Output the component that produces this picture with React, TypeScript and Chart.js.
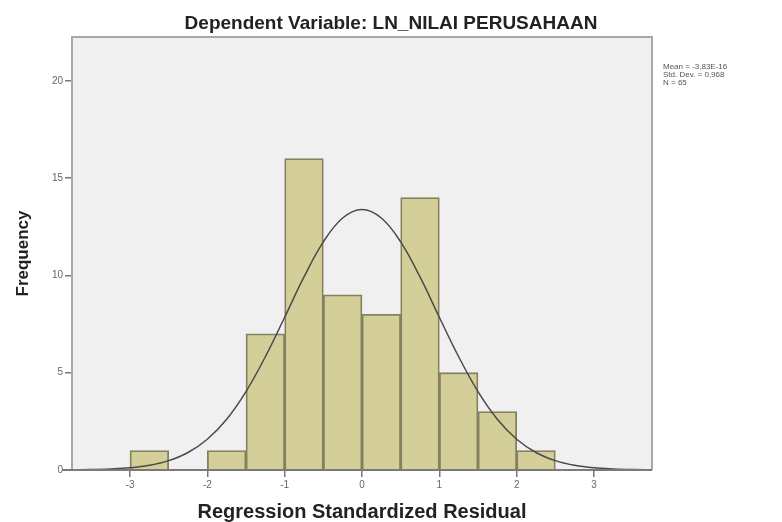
import React, { useEffect, useRef } from "react";
import { Chart, registerables } from "chart.js";

Chart.register(...registerables);

// Histogram bins (width 0.5), centre of each bin
const binCenters = [-2.75, -2.25, -1.75, -1.25, -0.75, -0.25, 0.25, 0.75, 1.25, 1.75, 2.25];
const frequencies = [1, 0, 1, 7, 16, 9, 8, 14, 5, 3, 1];

// Normal curve
const curveX = [-3.75, -3.5, -3.25, -3, -2.75, -2.5, -2.25, -2, -1.75, -1.5, -1.25, -1, -0.75, -0.5, -0.25, 0, 0.25, 0.5, 0.75, 1, 1.25, 1.5, 1.75, 2, 2.25, 2.5, 2.75, 3, 3.25, 3.5, 3.75];
const curveY = [0.01, 0.02, 0.05, 0.11, 0.24, 0.48, 0.9, 1.58, 2.61, 4.03, 5.82, 7.85, 9.92, 11.72, 12.95, 13.39, 12.95, 11.72, 9.92, 7.85, 5.82, 4.03, 2.61, 1.58, 0.9, 0.48, 0.24, 0.11, 0.05, 0.02, 0.01];

const xTicks = [-3, -2, -1, 0, 1, 2, 3];
const yTicks = [0, 5, 10, 15, 20];

const chartTitle = "Dependent Variable: LN_NILAI PERUSAHAAN";
const xTitle = "Regression Standardized Residual";
const yTitle = "Frequency";
const statsLines = ["Mean = -3,83E-16", "Std. Dev. = 0,968", "N = 65"];

const FONT = "'Liberation Sans', Arial, sans-serif";

const decorPlugin = {
  id: "decor",
  beforeDraw(chart: any) {
    const { ctx, chartArea: a } = chart;
    ctx.save();
    ctx.fillStyle = "#f0f0f0";
    ctx.fillRect(a.left, a.top, a.right - a.left, a.bottom - a.top);
    ctx.restore();
  },
  afterDraw(chart: any) {
    const { ctx, chartArea: a } = chart;
    ctx.save();
    // frame
    ctx.lineWidth = 2;
    ctx.strokeStyle = "#a8a8a8";
    ctx.beginPath();
    ctx.moveTo(a.left, a.bottom);
    ctx.lineTo(a.left, a.top);
    ctx.lineTo(a.right, a.top);
    ctx.lineTo(a.right, a.bottom);
    ctx.stroke();
    ctx.strokeStyle = "#7a7a7a";
    ctx.beginPath();
    ctx.moveTo(a.left - 10, a.bottom);
    ctx.lineTo(a.right, a.bottom);
    ctx.stroke();

    ctx.fillStyle = "#222";
    ctx.textAlign = "center";
    ctx.textBaseline = "alphabetic";
    ctx.font = `bold 19px ${FONT}`;
    ctx.fillText(chartTitle, 391, 29);

    ctx.font = `bold 20px ${FONT}`;
    ctx.fillText(xTitle, (a.left + a.right) / 2, 518);

    ctx.save();
    ctx.translate(28, (a.top + a.bottom) / 2);
    ctx.rotate(-Math.PI / 2);
    ctx.font = `bold 17px ${FONT}`;
    ctx.fillText(yTitle, 0, 0);
    ctx.restore();

    ctx.fillStyle = "#555";
    ctx.textAlign = "left";
    ctx.font = `8px ${FONT}`;
    statsLines.forEach((s, i) => ctx.fillText(s, 663, 69 + i * 8));
    ctx.restore();
  },
};

export default function App() {
  const ref = useRef<HTMLCanvasElement | null>(null);
  useEffect(() => {
    if (!ref.current) return;
    const chart = new Chart(ref.current, {
      type: "bar",
      data: {
        datasets: [
          {
            type: "line",
            data: curveX.map((x, i) => ({ x, y: curveY[i] })),
            borderColor: "#4a4a4a",
            borderWidth: 1.5,
            pointRadius: 0,
            tension: 0.4,
            fill: false,
            order: 0,
          } as any,
          {
            type: "bar",
            data: binCenters.map((x, i) => ({ x, y: frequencies[i] })),
            backgroundColor: "#d4cf98",
            borderColor: "#858160",
            borderWidth: (c: any) => (c.raw && c.raw.y === 0 ? 0 : 1.8),
            borderSkipped: "bottom",
            barPercentage: 1,
            categoryPercentage: 1,
            grouped: false,
            order: 1,
          } as any,
        ],
      },
      options: {
        responsive: false,
        animation: false,
        events: [],
        layout: { padding: { top: 37, right: 130, left: 0, bottom: 0 } },
        plugins: { legend: { display: false }, title: { display: false }, tooltip: { enabled: false } },
        scales: {
          x: {
            type: "linear",
            offset: false,
            min: -3.75,
            max: 3.75,
            afterFit: (s: any) => { s.height = 52; },
            afterBuildTicks: (s: any) => { s.ticks = xTicks.map((v) => ({ value: v })); },
            grid: { offset: false, drawOnChartArea: false, drawTicks: true, tickLength: 7, color: "#777", lineWidth: 1.5 },
            border: { display: false },
            ticks: { color: "#666", font: { size: 10, family: FONT }, padding: 2, maxRotation: 0, autoSkip: false },
          },
          y: {
            type: "linear",
            min: 0,
            max: 22.25,
            afterFit: (s: any) => { s.width = 72; },
            afterBuildTicks: (s: any) => { s.ticks = yTicks.map((v) => ({ value: v })); },
            grid: { offset: false, drawOnChartArea: false, drawTicks: true, tickLength: 7, color: "#777", lineWidth: 1.5 },
            border: { display: false },
            ticks: { color: "#666", font: { size: 10, family: FONT }, padding: 2, autoSkip: false },
          },
        },
      },
      plugins: [decorPlugin],
    });
    return () => chart.destroy();
  }, []);
  return (
    <div style={{ position: "absolute", left: 0, top: 0, width: 782, height: 522, background: "#fff" }}>
      <canvas ref={ref} width={782} height={522} />
    </div>
  );
}
